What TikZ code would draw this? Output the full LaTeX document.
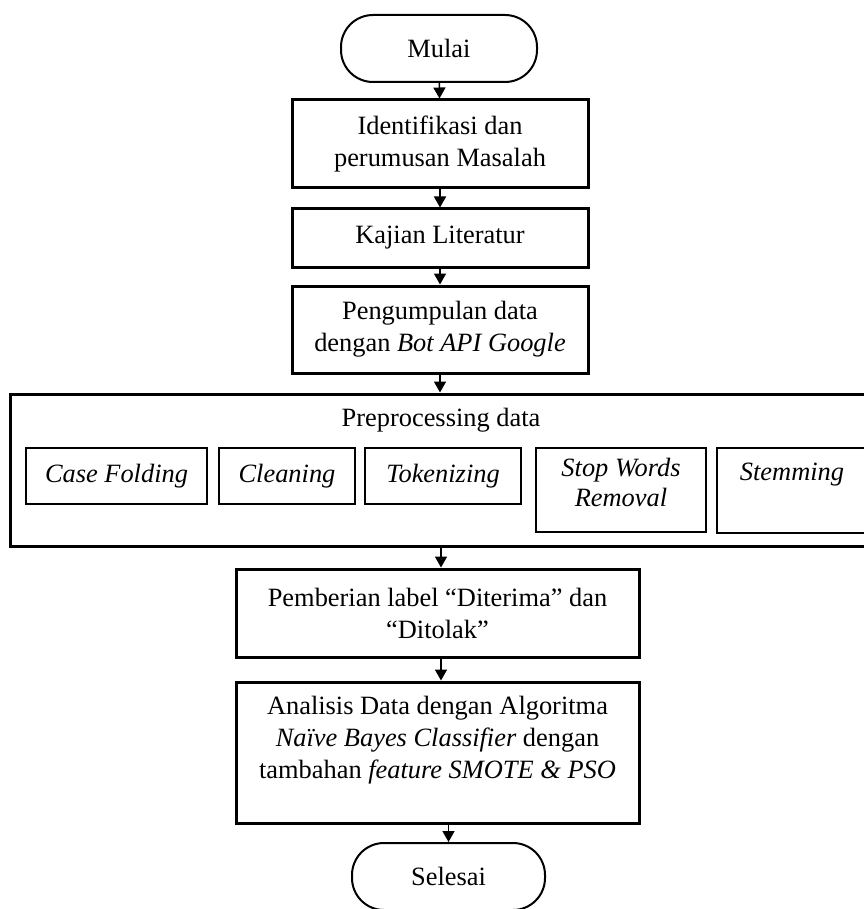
\documentclass[tikz,border=0pt]{standalone}
\usepackage{fontspec}
\setmainfont{Liberation Serif}
\usetikzlibrary{arrows.meta}

\tikzset{
	terminal/.style={draw, line width=1pt, rounded corners=16pt, minimum width=98pt, minimum height=33.5pt},
	process/.style={draw, line width=1.5pt, align=center, minimum width=148pt},
	substep/.style={draw, line width=0.7pt, align=center, inner ysep=0pt, font=\fontsize{13.2}{15}\selectfont\itshape},
	flow/.style={-{Triangle[length=5.5pt,width=6pt]}, line width=0.8pt}
}

\begin{document}
\begin{tikzpicture}[x=0.5pt, y=-0.5pt, font=\fontsize{13.2}{16}\selectfont]
	\useasboundingbox (0,0) rectangle (863,909);

	% main flow
	\node[terminal] (mulai) at (439,48.5) {Mulai};
	\node[process, minimum height=44pt] (ident) at (440,144) {Identifikasi dan\\perumusan Masalah};
	\node[process, minimum height=29pt] (kajian) at (440,238) {Kajian Literatur};
	\node[process, minimum height=43.5pt] (kumpul) at (440,329.5) {Pengumpulan data\\dengan \textit{Bot API Google}};

	% preprocessing
	\node[draw, line width=1.5pt, minimum width=431pt, inner ysep=0pt, text height=16pt, text depth=60pt] (prep) at (441,470) {Preprocessing data};
	\node[substep, minimum width=90.5pt, minimum height=28pt] (casefold) at (116.5,476) {Case Folding};
	\node[substep, minimum width=68pt, minimum height=28pt] (cleaning) at (287,476) {Cleaning};
	\node[substep, minimum width=78pt, minimum height=28pt] (token) at (443,476) {Tokenizing};
	\node[substep, minimum width=85pt, text height=29pt, text depth=13pt] (stopword) at (621,490) {Stop Words\\Removal};
	\node[substep, minimum width=75pt, text height=16pt, text depth=26.5pt] (stemming) at (792,490.5) {Stemming};

	\node[process, minimum width=201.5pt, minimum height=44pt] (label) at (437.5,613) {Pemberian label ``Diterima'' dan\\``Ditolak''};
	\node[process, minimum width=201.5pt, inner ysep=0pt, text height=48pt, text depth=22.5pt] (analisis) at (437.5,752.5) {Analisis Data dengan Algoritma\\\textit{Naïve Bayes Classifier} dengan\\tambahan \textit{feature SMOTE \& PSO}};
	\node[terminal, minimum width=96.5pt] (selesai) at (448.5,876.5) {Selesai};

	% arrows
	\draw[flow] (mulai) -- (ident);
	\draw[flow] (ident) -- (kajian);
	\draw[flow] (kajian) -- (kumpul);
	\draw[flow] (kumpul.south) -- (kumpul.south |- prep.north);
	\draw[flow] (prep.south) -- (prep.south |- label.north);
	\draw[flow] (prep.south |- label.south) -- (prep.south |- analisis.north);
	\draw[flow] (selesai.north |- analisis.south) -- (selesai.north);
\end{tikzpicture}
\end{document}
